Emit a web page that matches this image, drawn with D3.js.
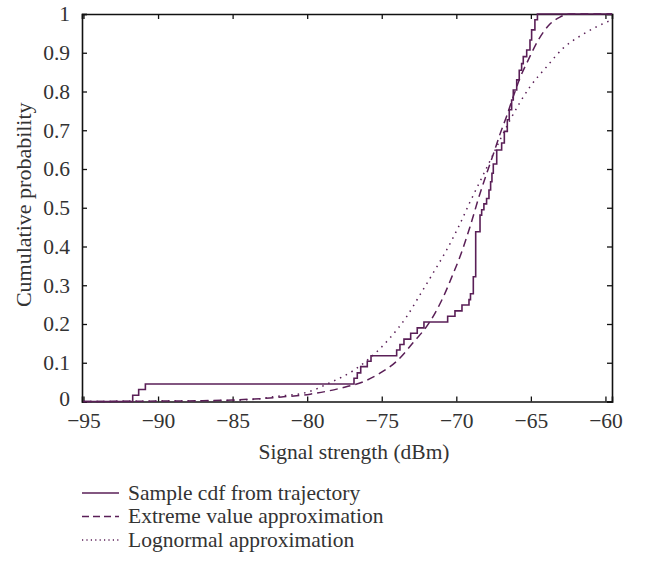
<!DOCTYPE html>
<html>
<head>
<meta charset="utf-8">
<script src="https://cdn.jsdelivr.net/npm/d3@7"></script>
<style>
  html, body { margin: 0; padding: 0; background: #fff; }
  svg text { font-family: "Liberation Serif", "DejaVu Serif", serif; fill: #333; }
</style>
</head>
<body>
<svg id="chart" width="651" height="563"></svg>
<script>
/* ============================
   DATA
============================ */
// sample cdf: jump positions (dBm) and cdf value after each jump
const sampleX = [-95, -91.7, -91.3, -90.85, -76.86, -76.64, -76.41, -75.97, -75.72,
  -74.0, -73.78, -73.51, -73.06, -72.62, -72.17, -70.58, -70.09, -69.62, -69.15,
  -69.05, -68.86, -68.7, -68.41, -68.3, -68.15, -67.97, -67.81, -67.7, -67.61,
  -67.52, -67.29, -66.96, -66.78, -66.58, -66.45, -66.29, -66.18, -65.95, -65.78,
  -65.62, -65.51, -65.28, -65.06, -64.95, -64.73, -64.56, -59.56];
const sampleP = [0, 0.016, 0.031, 0.045, 0.06, 0.074, 0.09, 0.104, 0.118,
  0.133, 0.147, 0.161, 0.176, 0.19, 0.205, 0.22, 0.234, 0.249, 0.263,
  0.278, 0.322, 0.438, 0.481, 0.495, 0.51, 0.524, 0.546, 0.567, 0.589,
  0.613, 0.649, 0.667, 0.697, 0.727, 0.753, 0.778, 0.804, 0.83, 0.855,
  0.872, 0.89, 0.907, 0.933, 0.959, 0.985, 1.0, 1.0];

// extreme value approximation
const extremeX = [-95, -90, -87, -85, -82.5, -81.6, -79.8, -77.8, -76.24, -75.12,
  -74.0, -72.89, -71.77, -70.87, -70.2, -69.75, -69.08, -68.41, -67.96, -67.52,
  -67.07, -66.62, -66.18, -65.73, -65.18, -64.5, -63.72, -63.05, -62.38, -59.56];
const extremeP = [0, 0.001, 0.002, 0.004, 0.009, 0.012, 0.019, 0.034, 0.051, 0.073,
  0.104, 0.152, 0.206, 0.27, 0.331, 0.374, 0.451, 0.537, 0.589, 0.638,
  0.69, 0.737, 0.787, 0.835, 0.881, 0.933, 0.974, 0.992, 1.0, 1.0];

// lognormal approximation
const lognormX = [-95, -90, -85, -83, -82.3, -80, -78.5, -76.9, -75.8, -74.45,
  -73.33, -72.44, -71.55, -70.65, -69.76, -69.08, -68.41, -67.74, -67.07, -66.4,
  -65.73, -65.06, -63.94, -62.83, -61.71, -60.59, -59.56];
const lognormP = [0, 0.001, 0.003, 0.008, 0.012, 0.024, 0.048, 0.08, 0.112, 0.164,
  0.219, 0.275, 0.332, 0.391, 0.458, 0.515, 0.568, 0.621, 0.675, 0.726,
  0.772, 0.812, 0.864, 0.912, 0.943, 0.967, 0.985];

const xTicks = [-95, -90, -85, -80, -75, -70, -65, -60];
const yTicks = [0, 0.1, 0.2, 0.3, 0.4, 0.5, 0.6, 0.7, 0.8, 0.9, 1];

const legendLabels = ["Sample cdf from trajectory", "Extreme value approximation", "Lognormal approximation"];

/* ============================
   LAYOUT
============================ */
const LINE = "#5a1f57";
const AXIS = "#111";
const FS = 21.5;
const pL = 82, pR = 612, pT = 14, pB = 401.5;

const svg = d3.select("#chart");

const x = d3.scaleLinear().domain([-95.1, -59.56]).range([pL, pR]);
const y = d3.scaleLinear().domain([0, 1]).range([pB, pT]);

const fmtX = d => (d < 0 ? "\u2212" + Math.abs(d) : String(d));
const fmtY = d => (d === 0 || d === 1 ? String(d) : d.toFixed(1));

// axes (ticks pointing inwards)
const gx = svg.append("g").attr("transform", `translate(0,${pB})`)
  .call(d3.axisBottom(x).tickValues(xTicks).tickSize(-5).tickPadding(11).tickFormat(fmtX));
const gxTop = svg.append("g").attr("transform", `translate(0,${pT})`)
  .call(d3.axisTop(x).tickValues(xTicks).tickSize(-5).tickFormat(""));
const gy = svg.append("g").attr("transform", `translate(${pL},0)`)
  .call(d3.axisLeft(y).tickValues(yTicks).tickSize(-5).tickPadding(12).tickFormat(fmtY));
const gyRight = svg.append("g").attr("transform", `translate(${pR},0)`)
  .call(d3.axisRight(y).tickValues(yTicks).tickSize(-5).tickFormat(""));

[gx, gxTop, gy, gyRight].forEach(g => {
  g.select(".domain").attr("stroke", AXIS).attr("stroke-width", 1.6);
  g.selectAll(".tick line").attr("stroke", AXIS).attr("stroke-width", 1.3);
  g.selectAll(".tick text").attr("font-size", FS)
    .attr("font-family", "Liberation Serif, DejaVu Serif, serif").attr("fill", "#333");
});
// keep the "0" label clear of the first x label
gy.selectAll(".tick text").filter(d => d === 0).attr("dy", "0.2em");

svg.append("text")
  .attr("x", (pL + pR) / 2 + 7).attr("y", 459)
  .attr("text-anchor", "middle").attr("font-size", FS)
  .text("Signal strength (dBm)");

svg.append("text")
  .attr("transform", `translate(31,${(pT + pB) / 2 - 3}) rotate(-90)`)
  .attr("text-anchor", "middle").attr("font-size", FS + 0.5)
  .text("Cumulative probability");

/* ============================
   CURVES
============================ */
const plot = svg.append("g");

const stepLine = d3.line().curve(d3.curveStepAfter).x(d => x(d[0])).y(d => y(d[1]));
const smoothLine = d3.line().curve(d3.curveMonotoneX).x(d => x(d[0])).y(d => y(d[1]));

const styles = [
  { dash: null, width: 1.6 },
  { dash: "8,5", width: 1.5 },
  { dash: "1.5,5", width: 1.5 }
];

plot.append("path")
  .datum(d3.zip(lognormX, lognormP))
  .attr("d", smoothLine)
  .attr("fill", "none").attr("stroke", LINE)
  .attr("stroke-width", styles[2].width).attr("stroke-dasharray", styles[2].dash);

plot.append("path")
  .datum(d3.zip(extremeX, extremeP))
  .attr("d", smoothLine)
  .attr("fill", "none").attr("stroke", LINE)
  .attr("stroke-width", styles[1].width).attr("stroke-dasharray", styles[1].dash);

plot.append("path")
  .datum(d3.zip(sampleX, sampleP))
  .attr("d", stepLine)
  .attr("fill", "none").attr("stroke", LINE)
  .attr("stroke-width", styles[0].width);

/* ============================
   LEGEND
============================ */
const legend = svg.append("g").attr("transform", "translate(82,493)");
legendLabels.forEach((lab, i) => {
  const row = legend.append("g").attr("transform", `translate(0,${i * 23.5})`);
  row.append("line")
    .attr("x1", 0).attr("x2", 37).attr("y1", 0).attr("y2", 0)
    .attr("stroke", LINE).attr("stroke-width", styles[i].width)
    .attr("stroke-dasharray", i === 1 ? "7,4" : (i === 2 ? "1.2,3.2" : null));
  row.append("text")
    .attr("x", 46).attr("y", 0).attr("dy", "0.32em")
    .attr("font-size", FS)
    .text(lab);
});
</script>
</body>
</html>
